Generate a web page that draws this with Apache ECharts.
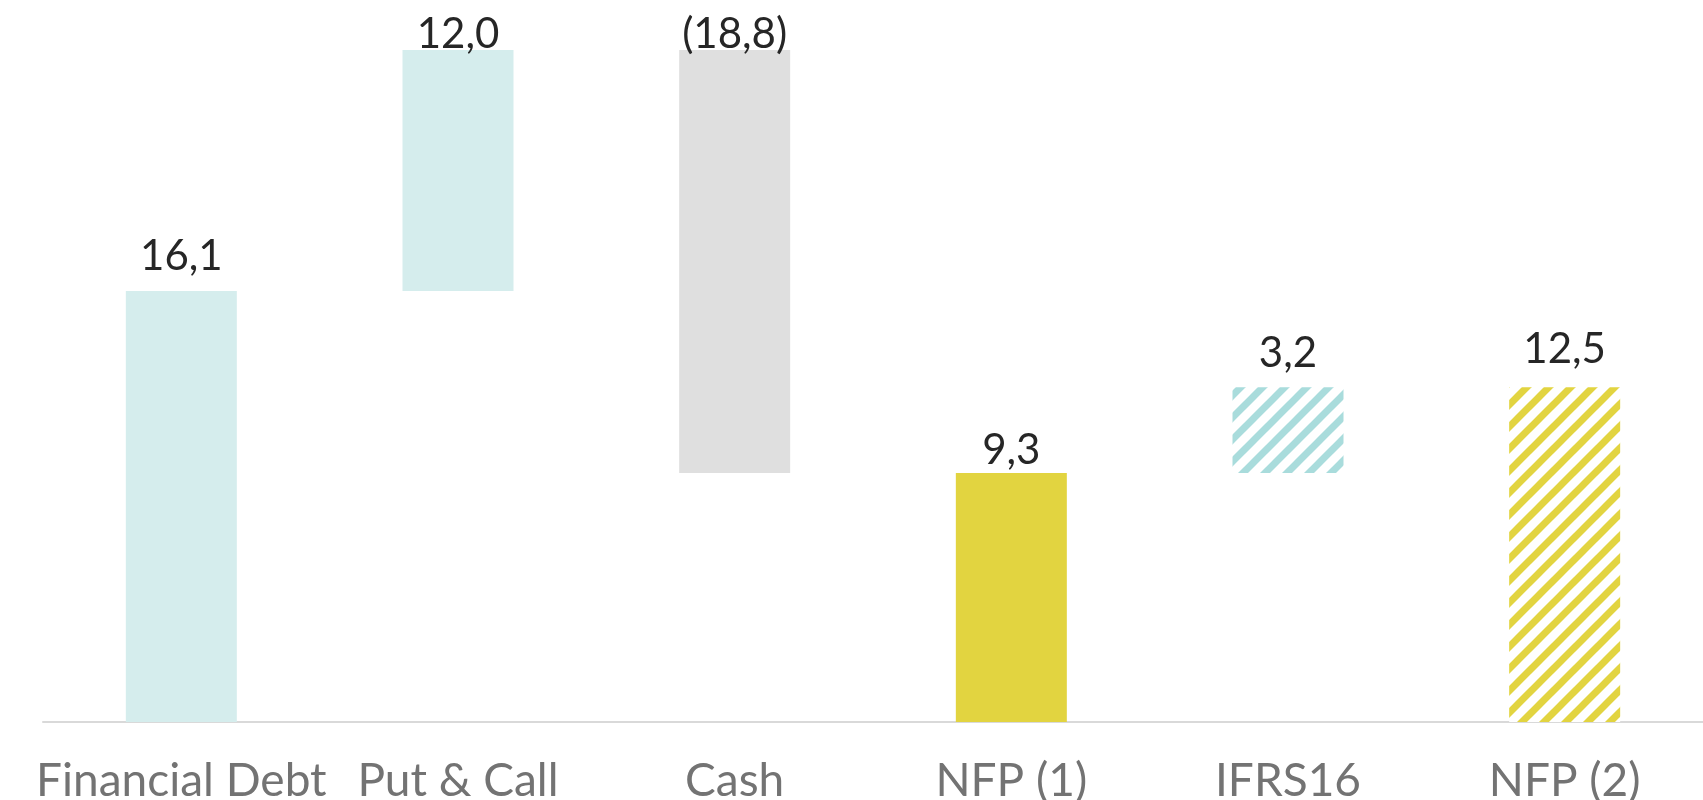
<!DOCTYPE html>
<html>
<head>
<meta charset="utf-8">
<script src="https://cdn.jsdelivr.net/npm/echarts@6/dist/echarts.min.js"></script>
<style>
  html, body { margin: 0; padding: 0; background: #fff; }
  #main { width: 1703px; height: 800px; }
</style>
</head>
<body>
<div id="main"></div>
<script>
// waterfall data
let categories = ['Financial Debt', 'Put & Call', 'Cash', 'NFP (1)', 'IFRS16', 'NFP (2)'];
let baseValues = [0, 16.1, 9.3, 0, 9.3, 0];     // invisible offset under each bar
let stepValues = [16.1, 12.0, 18.8, 9.3, 3.2, 12.5];
let stepLabels = ['16,1', '12,0', '(18,8)', '9,3', '3,2', '12,5'];
let yMax = 25.1; // chart is cut at the top like the original

let chartDom = document.getElementById('main');
let myChart = echarts.init(chartDom);

// diagonal hatch pattern
function hatch(color) {
    let c = document.createElement('canvas');
    c.width = 22;
    c.height = 22;
    let ctx = c.getContext('2d');
    ctx.fillStyle = '#ffffff';
    ctx.fillRect(0, 0, 22, 22);
    ctx.strokeStyle = color;
    ctx.lineWidth = 7;
    for (let k = -1; k <= 1; k++) {
        ctx.beginPath();
        ctx.moveTo(-11 + k * 22, 33);
        ctx.lineTo(33 + k * 22, -11);
        ctx.stroke();
    }
    return { image: c, repeat: 'repeat' };
}

let fills = ['#d5eded', '#d5eded', '#dfdfdf', '#e2d440', hatch('#a9dcdc'), hatch('#e2d440')];
let labelGap = [14, 0, 0, 2, 13, 17];

let stepData = stepValues.map(function (v, i) {
    let clipped = baseValues[i] + v > yMax;
    return {
        value: v,
        itemStyle: { color: fills[i] },
        label: clipped ? {
            position: 'insideTop',
            offset: [0, -42]
        } : {
            position: 'top',
            distance: labelGap[i]
        }
    };
});

let option = {
    animation: false,
    grid: { left: 43, right: 0, top: 50, bottom: 78, outerBoundsMode: 'none', containLabel: false },
    xAxis: {
        type: 'category',
        data: categories,
        axisLine: { lineStyle: { color: '#d9d9d9', width: 2 } },
        axisTick: { show: false },
        axisLabel: {
            color: '#737373',
            fontFamily: 'Lato',
            fontSize: 46,
            margin: 36,
            interval: 0
        }
    },
    yAxis: {
        type: 'value',
        min: 0,
        max: yMax,
        show: false,
        splitLine: { show: false }
    },
    series: [
        {
            type: 'bar',
            stack: 'w',
            data: baseValues,
            itemStyle: { color: 'transparent' },
            barWidth: 111,
            silent: true
        },
        {
            type: 'bar',
            stack: 'w',
            data: stepData,
            barWidth: 111,
            clip: true,
            label: {
                show: true,
                color: '#262626',
                fontFamily: 'Lato',
                fontSize: 42,
                formatter: function (p) { return stepLabels[p.dataIndex]; }
            }
        }
    ]
};

myChart.setOption(option);
</script>
</body>
</html>
